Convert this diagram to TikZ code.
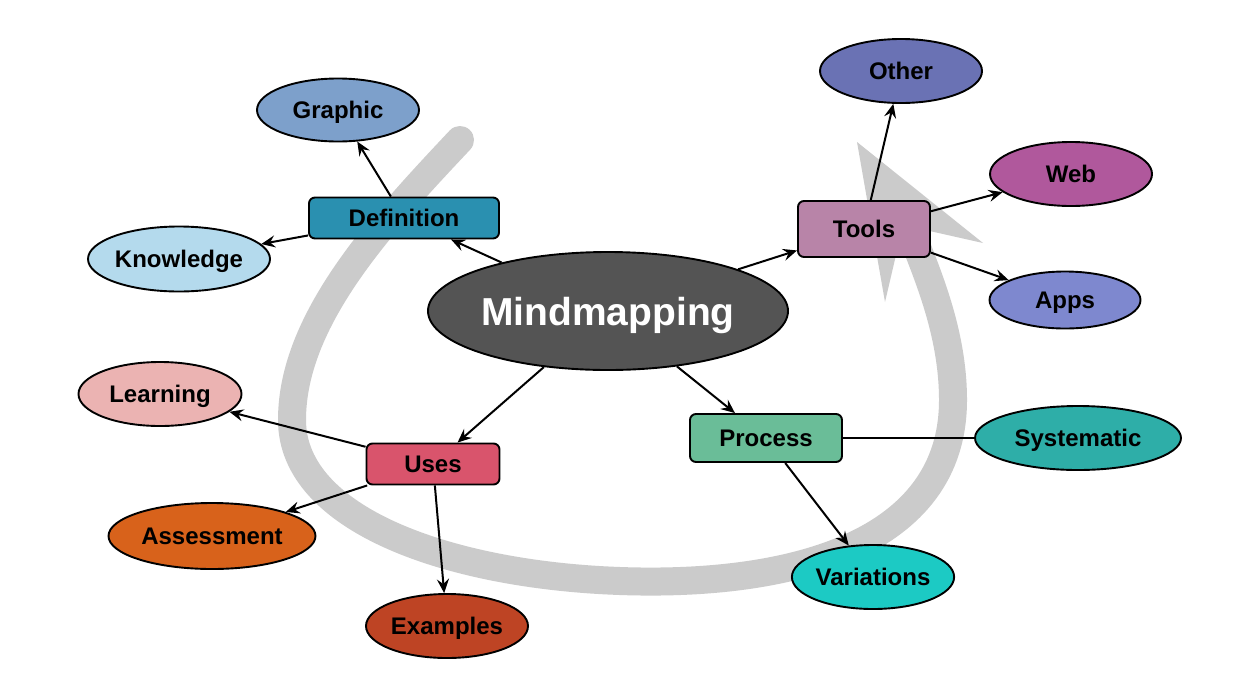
\documentclass[tikz,border=0pt]{standalone}
\usepackage{fontspec}
\setmainfont{Liberation Sans}
\usetikzlibrary{shapes.geometric,arrows.meta}
\definecolor{cMind}{HTML}{545454}
\definecolor{cDef}{HTML}{2A90B0}
\definecolor{cGraphic}{HTML}{7DA0CB}
\definecolor{cKnow}{HTML}{B4DAED}
\definecolor{cTools}{HTML}{B884A8}
\definecolor{cOther}{HTML}{6A72B4}
\definecolor{cWeb}{HTML}{B0589C}
\definecolor{cApps}{HTML}{7E88CF}
\definecolor{cProc}{HTML}{6ABD98}
\definecolor{cSys}{HTML}{2EAEA8}
\definecolor{cVar}{HTML}{1CCAC4}
\definecolor{cUses}{HTML}{D9546C}
\definecolor{cLearn}{HTML}{EBB3B2}
\definecolor{cAssess}{HTML}{D8621B}
\definecolor{cEx}{HTML}{BE4424}
\definecolor{cBand}{HTML}{CBCBCB}
\begin{document}
\begin{tikzpicture}[x=1pt,y=-1pt,
  every node/.style={font=\bfseries\fontsize{24}{28}\selectfont, text=black, draw=black,
    line width=1.9pt, inner sep=0pt, text height=17pt, text depth=0pt},
  oval/.style={ellipse},
  box/.style={rectangle, rounded corners=6pt},
  link/.style={line width=2pt, -{Stealth[length=14pt,width=12pt,inset=5pt]}},
  band/.style={draw=cBand, line width=28pt, line cap=round, line join=round},
]
\fill[white] (0,0) rectangle (1257,678);
\useasboundingbox (0,0) rectangle (1257,678);

% grey cycle arrow
\coordinate (b0) at (460,140);
\coordinate (b1) at (292,420);
\coordinate (b2) at (620,581);
\coordinate (b3) at (953,400);
\coordinate (b4) at (912,234);
\draw[band] (b0) .. controls (380,225) and (292,320) .. (b1)
  .. controls (292,520) and (450,575) .. (b2)
  .. controls (790,587) and (953,545) .. (b3)
  .. controls (953,330) and (925,270) .. (b4);
\fill[cBand] (857,142) -- (983,243) -- (903,225) -- (885,302) -- cycle;

% nodes
\node[oval, fill=cMind, minimum width=360pt, minimum height=118pt, text=white,
      font=\bfseries\fontsize{39}{44}\selectfont, text height=28pt] (mind) at (608,311) {Mindmapping};
\node[box, fill=cDef, minimum width=190pt, minimum height=41pt] (def) at (404,218) {Definition};
\node[oval, fill=cGraphic, minimum width=162pt, minimum height=63pt] (graphic) at (338,110) {Graphic};
\node[oval, fill=cKnow, minimum width=182pt, minimum height=65pt] (know) at (179,259) {Knowledge};
\node[box, fill=cTools, minimum width=132pt, minimum height=56pt] (tools) at (864,229) {Tools};
\node[oval, fill=cOther, minimum width=162pt, minimum height=64pt] (other) at (901,71) {Other};
\node[oval, fill=cWeb, minimum width=162pt, minimum height=64pt] (web) at (1071,174) {Web};
\node[oval, fill=cApps, minimum width=151pt, minimum height=57pt] (apps) at (1065,300) {Apps};
\node[box, fill=cProc, minimum width=152pt, minimum height=48pt] (proc) at (766,438) {Process};
\node[oval, fill=cSys, minimum width=206pt, minimum height=64pt] (sys) at (1078,438) {Systematic};
\node[oval, fill=cVar, minimum width=162pt, minimum height=64pt] (var) at (873,577) {Variations};
\node[box, fill=cUses, minimum width=133pt, minimum height=41pt] (uses) at (433,464) {Uses};
\node[oval, fill=cLearn, minimum width=163pt, minimum height=64pt] (learn) at (160,394) {Learning};
\node[oval, fill=cAssess, minimum width=207pt, minimum height=66pt] (assess) at (212,536) {Assessment};
\node[oval, fill=cEx, minimum width=162pt, minimum height=64pt] (ex) at (447,626) {Examples};

% connectors
\draw[link] (mind) -- (def);
\draw[link] (def) -- (graphic);
\draw[link] (def) -- (know);
\draw[link] (mind) -- (tools);
\draw[link] (tools) -- (other);
\draw[link] (tools) -- (web);
\draw[link] (tools) -- (apps);
\draw[link] (mind) -- (proc);
\draw[line width=2pt] (proc) -- (sys);
\draw[link] (proc) -- (var);
\draw[link] (mind) -- (uses);
\draw[link] (uses) -- (learn);
\draw[link] (uses) -- (assess);
\draw[link] (uses) -- (ex);
\end{tikzpicture}
\end{document}
